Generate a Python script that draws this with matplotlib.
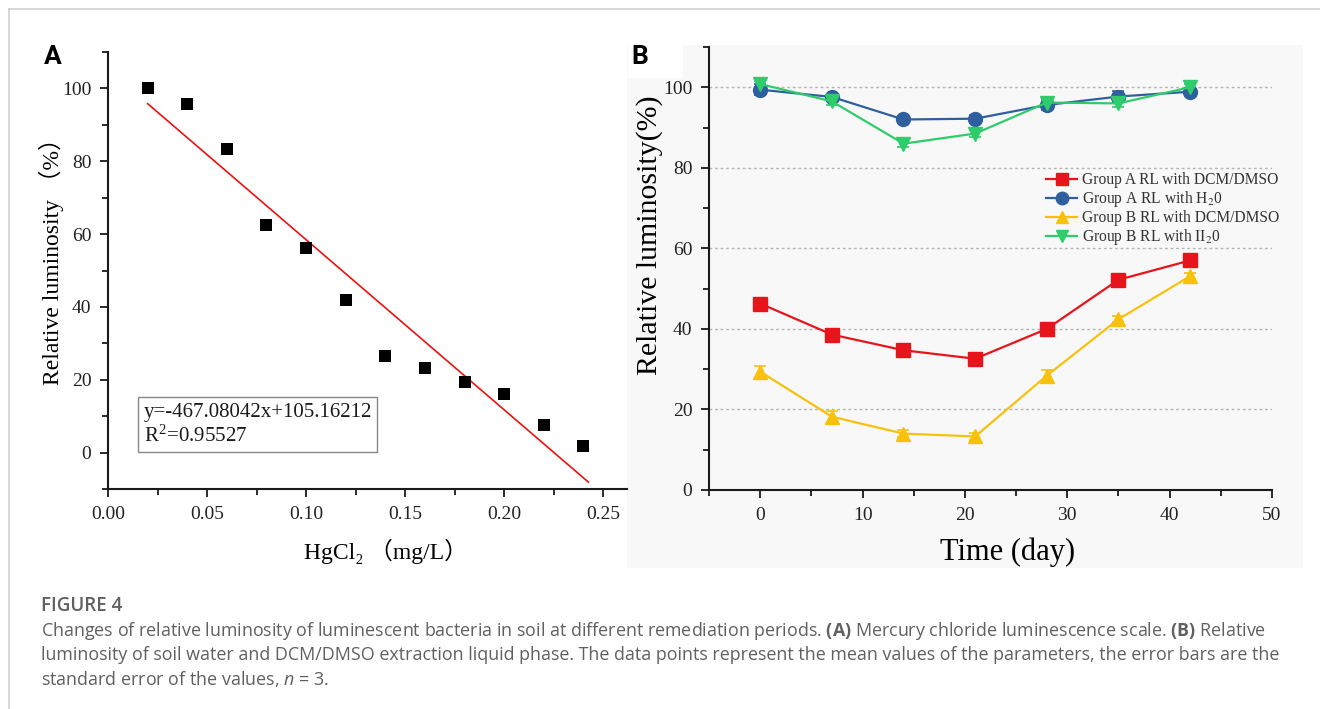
import matplotlib
matplotlib.use("Agg")
import matplotlib.pyplot as plt
import numpy as np
from matplotlib.ticker import MultipleLocator
from matplotlib.patches import Rectangle
from matplotlib.lines import Line2D

# ---------------- data ----------------
hg_conc = [0.02, 0.04, 0.06, 0.08, 0.10, 0.12, 0.14, 0.16, 0.18, 0.20, 0.22, 0.24]
hg_rl = [100.0, 95.7, 83.3, 62.6, 56.2, 41.8, 26.4, 23.2, 19.3, 16.2, 7.6, 1.8]
fit_slope = -467.08042
fit_intercept = 105.16212
fit_r2 = 0.95527
fit_x_range = [0.02, 0.2425]

days = [0, 7, 14, 21, 28, 35, 42]
a_dcm = [46.3, 38.6, 34.7, 32.6, 40.0, 52.2, 57.0]
a_dcm_err = [0.8, 1.3, 1.3, 0.8, 0.8, 1.3, 0.8]
a_h2o = [99.4, 97.6, 92.0, 92.2, 95.6, 97.7, 98.9]
a_h2o_err = [1.3, 0.8, 0.8, 1.0, 1.3, 1.3, 0.8]
b_dcm = [29.4, 18.2, 14.0, 13.3, 28.4, 42.4, 53.1]
b_dcm_err = [1.3, 1.3, 0.8, 0.8, 1.3, 0.8, 0.8]
b_h2o = [100.8, 96.5, 86.0, 88.5, 96.2, 96.0, 100.0]
b_h2o_err = [0.8, 0.8, 0.8, 0.8, 0.8, 0.8, 0.8]

series_labels = ["Group A RL with DCM/DMSO", "Group A RL with H$_2$0",
                 "Group B RL with DCM/DMSO", "Group B RL with II$_2$0"]

caption_title = "FIGURE 4"
caption_lines = [
    r"Changes of relative luminosity of luminescent bacteria in soil at different remediation periods. $\mathbf{(A)}$ Mercury chloride luminescence scale. $\mathbf{(B)}$ Relative",
    "luminosity of soil water and DCM/DMSO extraction liquid phase. The data points represent the mean values of the parameters, the error bars are the",
    r"standard error of the values, $n$ = 3.",
]

# ---------------- style ----------------
CAP_FONT = 'Open Sans'
plt.rcParams['mathtext.fontset'] = 'stix'
plt.rcParams['mathtext.bf'] = CAP_FONT + ':bold'
plt.rcParams['mathtext.it'] = CAP_FONT + ':italic'
plt.rcParams['mathtext.rm'] = CAP_FONT
plt.rcParams['mathtext.sf'] = CAP_FONT
SERIF = ['Liberation Serif', 'DejaVu Serif']
plt.rcParams['font.family'] = SERIF

W, H = 1320, 709
fig = plt.figure(figsize=(W / 100, H / 100), dpi=100)
fig.patch.set_facecolor('white')

# outer frame lines (top and left)
fig.add_artist(Line2D([9 / W, 1.0], [1 - 9 / H, 1 - 9 / H], color='#cfcfcf', lw=1.2))
fig.add_artist(Line2D([9 / W, 9 / W], [0, 1 - 9 / H], color='#cfcfcf', lw=1.2))

# panel B grey background
fig.add_artist(Rectangle((627 / W, 1 - 568 / H), (1303 - 627) / W, (568 - 45) / H,
                         transform=fig.transFigure, facecolor='#f8f8f8', edgecolor='none', zorder=0))
fig.add_artist(Rectangle((628 / W, 1 - 78 / H), (683 - 628) / W, (78 - 44) / H,
                         transform=fig.transFigure, facecolor='white', edgecolor='none', zorder=0.5))


def style_axes(ax):
    for s in ['top', 'right']:
        ax.spines[s].set_visible(False)
    for s in ['left', 'bottom']:
        ax.spines[s].set_linewidth(1.5)
        ax.spines[s].set_color('#1a1a1a')
    ax.tick_params(which='major', direction='out', length=6, width=1.3, labelsize=14, colors='#1a1a1a', pad=6)
    ax.tick_params(which='minor', direction='out', length=4, width=1.3, colors='#1a1a1a')
    for lab in ax.get_xticklabels() + ax.get_yticklabels():
        lab.set_color('#222222')


# ---------------- panel A ----------------
axA = fig.add_axes([108 / W, 1 - 489 / H, (627 - 108) / W, (489 - 52) / H])
axA.set_facecolor('none')
axA.scatter(hg_conc, hg_rl, marker='s', s=75, color='black', zorder=3, linewidths=0)
fx = np.array(fit_x_range)
axA.plot(fx, fit_slope * fx + fit_intercept, color='#ee1111', lw=1.2, zorder=2)
axA.set_xlim(0.0, 0.262)
axA.set_ylim(-10, 110)
axA.xaxis.set_major_locator(MultipleLocator(0.05))
axA.xaxis.set_minor_locator(MultipleLocator(0.025))
axA.yaxis.set_major_locator(MultipleLocator(20))
axA.yaxis.set_minor_locator(MultipleLocator(10))
axA.set_xticks([0, 0.05, 0.10, 0.15, 0.20, 0.25])
axA.set_xticklabels(['0.00', '0.05', '0.10', '0.15', '0.20', '0.25'])
axA.set_yticks([0, 20, 40, 60, 80, 100])
style_axes(axA)
cjk_serif = ['Liberation Serif', 'Noto Sans CJK SC', 'DejaVu Serif']
axA.set_ylabel('Relative luminosity \uff08%\uff09', fontsize=17, family=cjk_serif)
axA.yaxis.set_label_coords(-0.085, 0.535)
axA.set_xlabel('HgCl\u2082 \uff08mg/L\uff09', fontsize=17, family=cjk_serif)
axA.xaxis.set_label_coords(0.535, -0.115)
axA.text(0.018, 1.5, 'y=-467.08042x+105.16212\nR$^{\\mathregular{2}}$=0.95527',
         fontsize=15, va='bottom', ha='left', linespacing=1.25, color='#1a1a1a',
         bbox=dict(boxstyle='square,pad=0.25', facecolor='white', edgecolor='#888888', lw=1.0))

# ---------------- panel B ----------------
axB = fig.add_axes([709 / W, 1 - 490 / H, (1272 - 709) / W, (490 - 47) / H])
axB.set_facecolor('none')
colors = ['#e8141c', '#2f5f9e', '#f7c10c', '#2ecc6a']
markers = ['s', 'o', '^', 'v']
data = [(a_dcm, a_dcm_err), (a_h2o, a_h2o_err), (b_dcm, b_dcm_err), (b_h2o, b_h2o_err)]
handles = []
for (vals, errs), c, m, lab in zip(data, colors, markers, series_labels):
    axB.errorbar(days, vals, yerr=errs, color=c, marker=m, markersize=10, lw=1.6,
                 capsize=4.5, elinewidth=1.2, capthick=1.2, zorder=3)
    handles.append(Line2D([], [], color=c, marker=m, markersize=9, lw=1.6, label=lab))
axB.set_xlim(-5, 50)
axB.set_ylim(0, 110)
axB.xaxis.set_major_locator(MultipleLocator(10))
axB.xaxis.set_minor_locator(MultipleLocator(5))
axB.yaxis.set_major_locator(MultipleLocator(20))
axB.yaxis.set_minor_locator(MultipleLocator(10))
axB.set_xticks([0, 10, 20, 30, 40, 50])
axB.set_yticks([0, 20, 40, 60, 80, 100])
for yv in [20, 40, 60, 80, 100]:
    axB.axhline(yv, color='#b5b5b5', lw=1.0, ls=(0, (2, 2)), zorder=1)
style_axes(axB)
axB.set_ylabel('Relative luminosity(%)', fontsize=21.5)
axB.yaxis.set_label_coords(-0.082, 0.576)
axB.set_xlabel('Time (day)', fontsize=22)
axB.xaxis.set_label_coords(0.53, -0.108)
leg = axB.legend(handles=handles, loc='upper left', bbox_to_anchor=(0.585, 0.735), frameon=False,
                 fontsize=11.2, handlelength=2.0, handletextpad=0.3, labelspacing=0.06, borderpad=0)
for t in leg.get_texts():
    t.set_color('#333333')

# panel letters
fig.text(53 / W, 1 - 57 / H, 'A', fontsize=19, fontweight='bold', family='Roboto', ha='center', va='center')
fig.text(640 / W, 1 - 57 / H, 'B', fontsize=19, fontweight='bold', family='Roboto', ha='center', va='center')

# ---------------- caption ----------------
CAP_X = 41
fig.text(CAP_X / W, 1 - 606 / H, caption_title, fontsize=13.5, family=CAP_FONT, fontweight='semibold',
         color='#606060', va='center', ha='left')
cap_y = [631, 655, 679]
cap_texts = []
for line, y in zip(caption_lines, cap_y):
    t = fig.text(CAP_X / W, 1 - y / H, line, fontsize=11, family=CAP_FONT, color='#606060',
                 va='center', ha='left', math_fontfamily='custom')
    cap_texts.append(t)
# fit caption width to reference (line 1 spans ~1210 px, line 2 ~1258 px)
r = fig.canvas.get_renderer()
w1 = cap_texts[0].get_window_extent(r).width
w2 = cap_texts[1].get_window_extent(r).width
scale = 0.5 * (1210.0 / w1 + 1258.0 / w2)
for t in cap_texts:
    t.set_fontsize(11 * scale)

fig.savefig('out.png', dpi=100, facecolor='white')
